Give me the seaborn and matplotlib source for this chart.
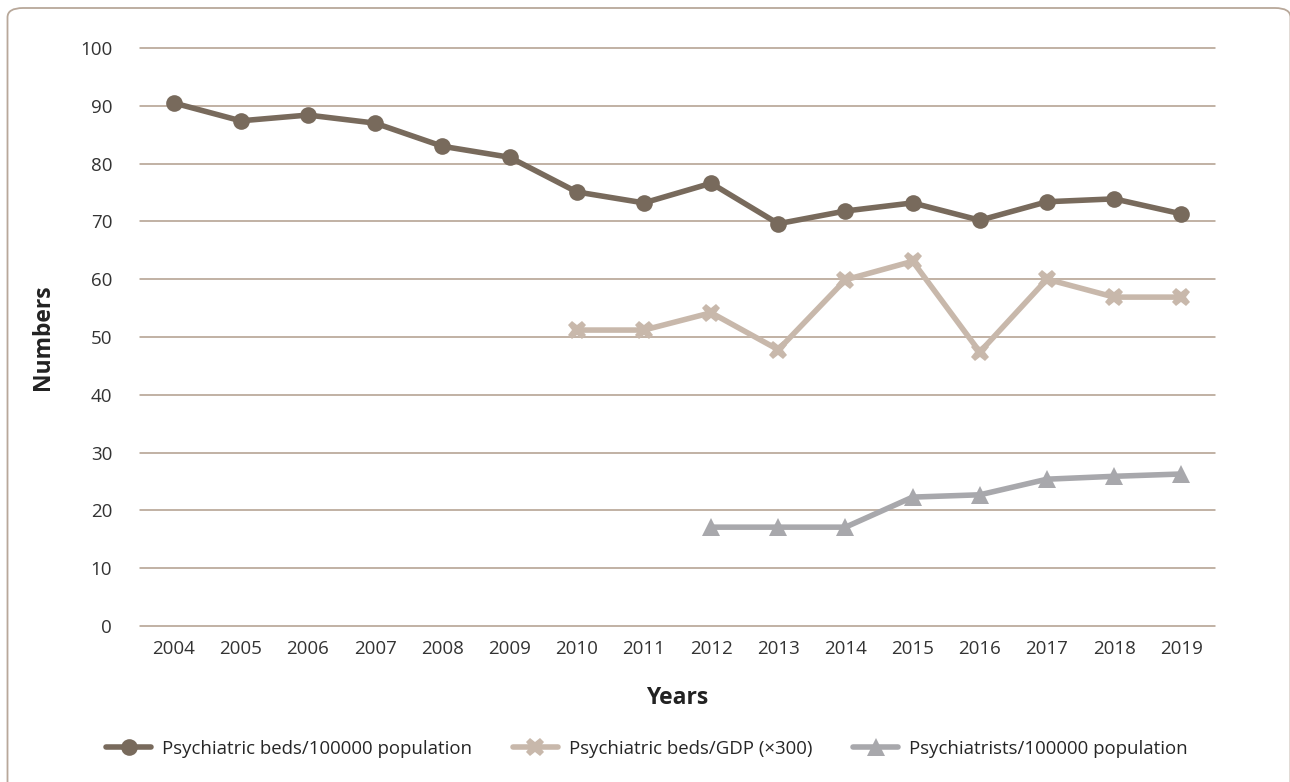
import seaborn as sns
import matplotlib.pyplot as plt
import pandas as pd
from matplotlib.patches import FancyBboxPatch

years = list(range(2004, 2020))
beds_per_pop = [90.5, 87.4, 88.4, 87.0, 83.0, 81.1, 75.1, 73.2, 76.6, 69.6,
                71.8, 73.2, 70.2, 73.4, 73.9, 71.3]
gdp_years = list(range(2010, 2020))
beds_per_gdp = [51.2, 51.2, 54.2, 47.8, 59.9, 63.1, 47.4, 60.0, 56.9, 56.9]
psy_years = list(range(2012, 2020))
psychiatrists = [17.1, 17.1, 17.1, 22.3, 22.7, 25.4, 25.9, 26.3]

labels = ["Psychiatric beds/100000 population",
          "Psychiatric beds/GDP (\u00d7300)",
          "Psychiatrists/100000 population"]
colors = ["#786a5c", "#c8b8ab", "#a8a8ac"]
markers = ["o", "X", "^"]

sns.set_theme(style="white")
plt.rcParams['font.family'] = ['Open Sans', 'DejaVu Sans']

fig = plt.figure(figsize=(12.9, 7.82), dpi=100)
ax = fig.add_axes([140 / 1290, 1 - 626 / 782, 1075 / 1290, 578 / 782])

# rounded outer frame (runs off the right and bottom edges)
frame = FancyBboxPatch((7.5 / 1290, -20 / 782), 1283 / 1290, 794 / 782,
                       boxstyle="round,pad=0,rounding_size=0.012",
                       transform=fig.transFigure, fill=False,
                       edgecolor="#b8a89a", linewidth=1.3, zorder=0)
fig.patches.append(frame)

series = [(years, beds_per_pop), (gdp_years, beds_per_gdp), (psy_years, psychiatrists)]
for (xs, ys), lab, col, mk in zip(series, labels, colors, markers):
    df = pd.DataFrame({"x": xs, "y": ys})
    sns.lineplot(data=df, x="x", y="y", ax=ax, color=col, linewidth=4,
                 marker=mk, markersize=12 if mk == "o" else 13,
                 markeredgewidth=0, label=lab, zorder=3, clip_on=False)

ax.set_xlim(2003.5, 2019.5)
ax.set_ylim(0, 100)
ax.set_yticks(range(0, 101, 10))
ax.set_xticks(years)
ax.yaxis.grid(True, color="#b09c8c", linewidth=1.1)
for gl in ax.get_ygridlines():
    gl.set_clip_on(False)
ax.set_axisbelow(True)
for s in ax.spines.values():
    s.set_visible(False)
ax.tick_params(axis="both", length=0, labelsize=13.5, colors="#333333")
ax.tick_params(axis="y", pad=20)
ax.tick_params(axis="x", pad=10)

ax.set_xlabel("Years", fontsize=16.5, fontweight="bold", labelpad=20, color="#222222")
ax.set_ylabel("Numbers", fontsize=16.5, fontweight="bold", labelpad=18, color="#222222")

ax.legend(loc="center", bbox_to_anchor=((647 - 140) / 1075, (749 - 626) / -578), ncol=3,
          frameon=False, fontsize=13.4, handlelength=2.4, columnspacing=2.2,
          handletextpad=0.6)

plt.savefig("out.png", dpi=100)
